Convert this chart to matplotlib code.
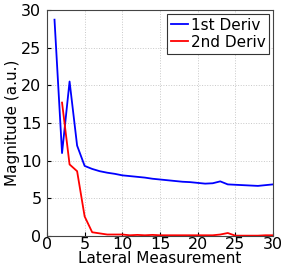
import matplotlib
matplotlib.use("Agg")
import matplotlib.pyplot as plt

# lateral measurement index
x1 = list(range(1, 31))
deriv1 = [28.7, 11.0, 20.5, 12.0, 9.3, 8.9, 8.6, 8.4, 8.25, 8.05,
          7.95, 7.85, 7.75, 7.6, 7.5, 7.4, 7.3, 7.2, 7.15, 7.05,
          6.95, 7.0, 7.25, 6.85, 6.8, 6.75, 6.7, 6.65, 6.75, 6.85]

x2 = list(range(2, 31))
deriv2 = [17.7, 9.5, 8.6, 2.6, 0.5, 0.35, 0.2, 0.2, 0.2, 0.1,
          0.15, 0.1, 0.15, 0.1, 0.1, 0.1, 0.1, 0.1, 0.1, 0.1,
          0.1, 0.2, 0.4, 0.05, 0.05, 0.05, 0.05, 0.1, 0.1]

plt.rcParams['font.family'] = ['DejaVu Sans']

fig = plt.figure(figsize=(3.05, 2.67), dpi=100)
ax = fig.add_axes([0.154, 0.116, 0.741, 0.847])

ax.plot(x1, deriv1, color='#0000ff', lw=1.3, label='1st Deriv')
ax.plot(x2, deriv2, color='#ff0000', lw=1.3, label='2nd Deriv')

ax.set_xlim(0, 30)
ax.set_ylim(0, 30)
ax.set_xticks([0, 5, 10, 15, 20, 25, 30])
ax.set_yticks([0, 5, 10, 15, 20, 25, 30])
ax.grid(True, linestyle=':', color='#c8c8c8', lw=0.7)
ax.tick_params(labelsize=11.5, direction='in', length=3)
ax.tick_params(axis='x', pad=1)
ax.tick_params(axis='y', pad=4)
for s in ax.spines.values():
    s.set_color('#444444')
    s.set_linewidth(0.8)

ax.set_xlabel('Lateral Measurement', fontsize=11, labelpad=-1)
ax.set_ylabel('Magnitude (a.u.)', fontsize=11, labelpad=1)

leg = ax.legend(loc='upper right', fontsize=11, fancybox=False,
                edgecolor='#333333', framealpha=1, handlelength=1.1,
                handletextpad=0.2, borderaxespad=0.25, borderpad=0.25,
                labelspacing=0.15)
leg.get_frame().set_linewidth(0.8)

fig.savefig('out.png', dpi=100)
